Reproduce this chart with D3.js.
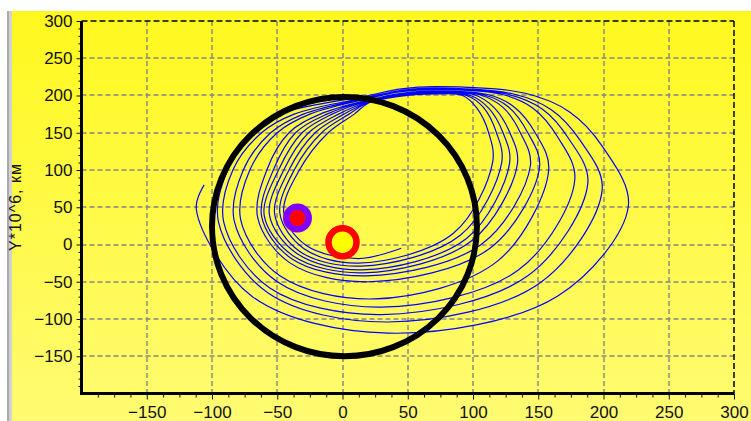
<!DOCTYPE html>
<html><head><meta charset="utf-8">
<script src="https://cdn.jsdelivr.net/npm/d3@7"></script>
<style>html,body{margin:0;padding:0;background:#fff;overflow:hidden}</style>
</head><body>
<svg id="chart" width="751" height="421"></svg>
<script>
// ---- data ----
const xDomain = [-200, 300];
const yDomain = [-200, 300];
const xTicks = [-150, -100, -50, 0, 50, 100, 150, 200, 250, 300];
const yTicks = [-150, -100, -50, 0, 50, 100, 150, 200, 250, 300];
const yTitle = "Y*10^6, км";

// black orbit (centre and radii in data units)
const orbitCenter = [1.5, 24];
const orbitRadii = [101.5, 174];
// bodies
const sunPos = [0, 3];
const probePos = [-34.5, 35.5];

// spacecraft trajectory (x, y)
const trajectory = [
  [-106,80],[-112,47],
  [-69,-70],[35,-119],[165,-69],[219,51],[199,132],[174,178],[140,203],[72,212],[45,209],[20,200],[-48,175],[-68,150],[-88,100],[-95,30],
  [-57,-65],[35,-104],[151,-52],[199,74],[182,140],[160,181],[131,202],[72,210],[45,207],[20,198],[-37,175],[-62,150],[-84,100],[-91,30],
  [-56,-58],[30,-94],[142,-42],[188,83],[173,143],[153,182],[126,202],[72,209],[45,206],[20,197],[-30,175],[-55,150],[-76,100],[-83,32],
  [-50,-50],[30,-84],[135,-34],[178,87],[165,144],[146,183],[121,202],[72,208],[45,205],[20,196],[-25,175],[-50,150],[-71,100],[-78,33],
  [-48,-42],[25,-73],[119,-22],[158,100],[148,149],[132,184],[112,201],[72,206],[45,203],[20,194],[-17,175],[-41,150],[-58,100],[-65,36],
  [-40,-25],[20,-50],[113,-5],[151,104],[142,150],[127,185],[108,201],[72,206],[45,203],[20,194],[-12,175],[-36,150],[-53,100],[-62,38],
  [-39,-19],[18,-42],[107,1],[144,106],[136,151],[123,184],[105,201],[72,205],[45,202],[20,193],[-8,175],[-31,150],[-49,100],[-60,39],
  [-38,-15],[16,-38],[99,5],[134,108],[128,151],[116,184],[101,201],[72,204],[45,201],[20,192],[-3,175],[-26,150],[-45,100],[-56,40],
  [-35,-12],[15,-34],[95,8],[128,109],[123,150],[112,183],[98,200],[72,203],[45,200],[20,191],[1,175],[-21,150],[-41,100],[-52,41],
  [-33,-9],[14,-29],[90,12],[122,110],[118,150],[108,184],[95,200],[72,203],[45,200],[20,191],[5,175],[-16,150],[-37,100],[-48,42],
  [-30,-5],[12,-25],[85,15],[115,110],[112,150],[103,183],[92,200],[72,202],[45,199],[20,190],[9,175],[-11,150],[-33,100],[-45,43],
  [-28,-1],[12,-19],[45,-5]
];

// ---- layout ----
const W = 751, H = 421;
const L = 81.5, R = 734, T = 21, B = 393.5;
const FONT = '"Liberation Sans", Arial, sans-serif';

const svg = d3.select('#chart');
const defs = svg.append('defs');
const grad = defs.append('linearGradient').attr('id','bg')
  .attr('x1',0).attr('y1',0).attr('x2',0).attr('y2',1);
grad.append('stop').attr('offset','0%').attr('stop-color','#FFF81E');
grad.append('stop').attr('offset','100%').attr('stop-color','#FFFB72');
defs.append('clipPath').attr('id','plotclip').append('rect')
  .attr('x',L).attr('y',T).attr('width',R-L).attr('height',B-T);

svg.append('rect').attr('x',0).attr('y',0).attr('width',W).attr('height',H).attr('fill','#fff');
svg.append('rect').attr('x',12).attr('y',11).attr('width',W-12).attr('height',H-11).attr('fill','url(#bg)');
svg.append('rect').attr('x',7).attr('y',11).attr('width',2).attr('height',H-11).attr('fill','#a9a9a9');
svg.append('rect').attr('x',9).attr('y',11).attr('width',3).attr('height',H-11).attr('fill','#d2d2d2');

const x = d3.scaleLinear().domain(xDomain).range([L, R]);
const y = d3.scaleLinear().domain(yDomain).range([B, T]);

// grid
const grid = svg.append('g');
grid.selectAll('line.gx').data(xTicks.filter(v => v < xDomain[1])).enter().append('line')
  .attr('x1', d => Math.round(x(d))).attr('x2', d => Math.round(x(d)))
  .attr('y1', T).attr('y2', B)
  .attr('stroke', '#858585').attr('stroke-width', 1.4).attr('stroke-dasharray', '5,3');
grid.selectAll('line.gy').data(yTicks.filter(v => v < yDomain[1])).enter().append('line')
  .attr('y1', d => Math.round(y(d))).attr('y2', d => Math.round(y(d)))
  .attr('x1', L).attr('x2', R)
  .attr('stroke', '#858585').attr('stroke-width', 1.4).attr('stroke-dasharray', '5,3');

// top and right borders
svg.append('line').attr('x1', L).attr('x2', R).attr('y1', T).attr('y2', T)
  .attr('stroke', '#000').attr('stroke-width', 1.5).attr('stroke-dasharray', '6,3');
svg.append('line').attr('x1', R).attr('x2', R).attr('y1', T).attr('y2', B)
  .attr('stroke', '#000').attr('stroke-width', 1.5).attr('stroke-dasharray', '6,3');

// data layer
const plot = svg.append('g').attr('clip-path', 'url(#plotclip)');
const line = d3.line().x(d => x(d[0])).y(d => y(d[1])).curve(d3.curveCatmullRom.alpha(0.5));
plot.append('path').datum(trajectory).attr('d', line)
  .attr('fill', 'none').attr('stroke', '#0000ff').attr('stroke-width', 1.2);

plot.append('ellipse')
  .attr('cx', x(orbitCenter[0])).attr('cy', y(orbitCenter[1]))
  .attr('rx', x(orbitCenter[0] + orbitRadii[0]) - x(orbitCenter[0]))
  .attr('ry', y(orbitCenter[1]) - y(orbitCenter[1] + orbitRadii[1]))
  .attr('fill', 'none').attr('stroke', '#000').attr('stroke-width', 6);

plot.append('circle').attr('cx', x(sunPos[0])).attr('cy', y(sunPos[1])).attr('r', 14)
  .attr('fill', '#FFFF00').attr('stroke', '#FF0000').attr('stroke-width', 6.5);
plot.append('circle').attr('cx', x(probePos[0])).attr('cy', y(probePos[1])).attr('r', 14.5)
  .attr('fill', '#8000FF');
plot.append('circle').attr('cx', x(probePos[0])).attr('cy', y(probePos[1])).attr('r', 8)
  .attr('fill', '#FF0000');

// axes
function minorValues(lo, hi, step, major) {
  const out = [];
  for (let v = lo; v <= hi + 1e-9; v += step) {
    if (Math.abs(v / major - Math.round(v / major)) > 1e-6) out.push(v);
  }
  return out;
}
const xMinor = minorValues(xDomain[0], xDomain[1], 12.5, 50);
const yMinor = minorValues(yDomain[0], yDomain[1], 10, 50);

const yAxisMinor = svg.append('g').attr('transform', `translate(${L},0)`)
  .call(d3.axisLeft(y).tickValues(yMinor).tickSize(3).tickSizeOuter(0).tickFormat(''));
const xAxisMinor = svg.append('g').attr('transform', `translate(0,${B})`)
  .call(d3.axisBottom(x).tickValues(xMinor).tickSize(4).tickSizeOuter(0).tickFormat(''));
[yAxisMinor, xAxisMinor].forEach(g => {
  g.select('.domain').remove();
  g.selectAll('line').attr('stroke', '#111').attr('stroke-width', 1);
});

const yAxis = svg.append('g').attr('transform', `translate(${L},0)`)
  .call(d3.axisLeft(y).tickValues(yTicks).tickSize(5).tickSizeOuter(0).tickPadding(4));
const xAxis = svg.append('g').attr('transform', `translate(0,${B})`)
  .call(d3.axisBottom(x).tickValues(xTicks).tickSize(6).tickSizeOuter(0).tickPadding(6));
[yAxis, xAxis].forEach(g => {
  g.select('.domain').attr('stroke', '#000').attr('stroke-width', 3);
  g.selectAll('.tick line').attr('stroke', '#111').attr('stroke-width', 1);
  g.selectAll('text').attr('fill', '#111').style('font-family', FONT).style('font-size', '17px');
});
yAxis.select('.domain').attr('d', `M0,${T}V${B + 1.5}`);
xAxis.select('.domain').attr('d', `M${L - 1.5},0H${R}`);

// y title
svg.append('text')
  .attr('transform', 'translate(21,207) rotate(-90)')
  .attr('text-anchor', 'middle')
  .style('font-family', FONT).style('font-size', '16px').style('letter-spacing', '1px')
  .attr('fill', '#111')
  .text(yTitle);
</script>
</body></html>
